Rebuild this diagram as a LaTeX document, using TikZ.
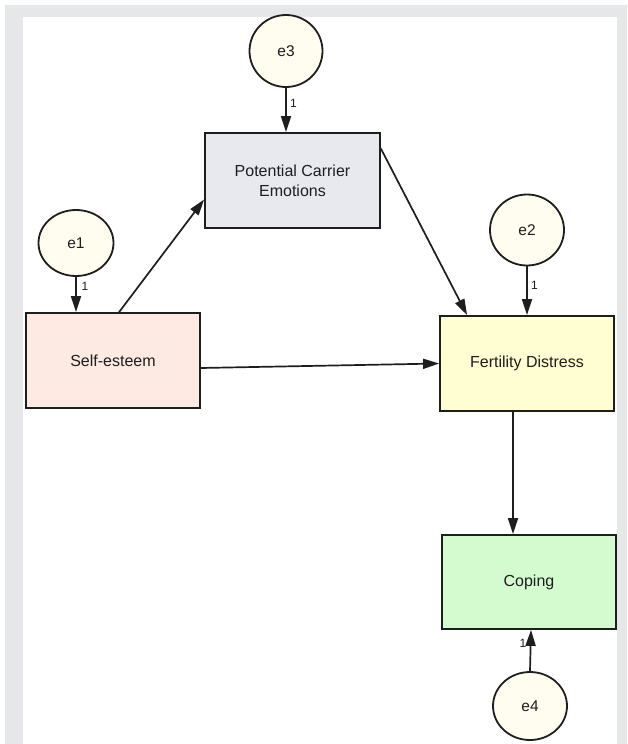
\documentclass[tikz,border=0pt]{standalone}
\usepackage{fontspec}
\setmainfont{Liberation Sans}
\usetikzlibrary{arrows.meta,shapes.geometric}
\definecolor{framegrey}{HTML}{E6E7E9}
\definecolor{inkc}{HTML}{1E1E1E}
\definecolor{pcefill}{HTML}{E8E8EF}
\definecolor{sefill}{HTML}{FCEAE3}
\definecolor{fdfill}{HTML}{FFFDD2}
\definecolor{copfill}{HTML}{D4FAD0}
\definecolor{errfill}{HTML}{FEFDF0}
\tikzset{
  varbox/.style={draw=inkc, line width=1.8pt, rectangle, inner sep=0pt, align=center,
     font=\fontsize{16}{20}\selectfont, text=inkc},
  errc/.style={draw=inkc, line width=1.8pt, ellipse, inner sep=0pt, fill=errfill,
     font=\fontsize{15.5}{18}\selectfont, text=inkc},
  path/.style={draw=inkc, line width=1.7pt, -{Triangle[length=16pt,width=10pt]}},
  onelab/.style={font=\fontsize{12}{13}\selectfont, text=inkc, inner sep=0pt}
}
\begin{document}
\begin{tikzpicture}[x=1pt,y=-1pt]
\useasboundingbox (0,0) rectangle (627,744);
\fill[white] (0,0) rectangle (627,744);
\fill[framegrey] (5,5) rectangle (627,744);
\fill[white] (23,17) rectangle (617,744);

\node[varbox, fill=pcefill, minimum width=175pt, minimum height=95pt] (pce) at (292.5,180.5) {Potential Carrier\\Emotions};
\node[varbox, fill=sefill, minimum width=174pt, minimum height=95pt] (se) at (113,360.5) {Self-esteem};
\node[varbox, fill=fdfill, minimum width=174pt, minimum height=95pt] (fd) at (527,363.5) {Fertility Distress};
\node[varbox, fill=copfill, minimum width=174pt, minimum height=94pt] (cop) at (529,582) {Coping};

\node[errc, minimum width=73pt, minimum height=72pt] (e3) at (286,51) {e3};
\node[errc, minimum width=75pt, minimum height=66pt] (e1) at (76,243) {e1};
\node[errc, minimum width=74pt, minimum height=71pt] (e2) at (527,230) {e2};
\node[errc, minimum width=74pt, minimum height=68pt] (e4) at (530,706) {e4};

% error paths
\draw[path] (e3.south) -- (pce.north -| e3.south);
\draw[path] (e1.south) -- (se.north -| e1.south);
\draw[path] (e2.south) -- (fd.north -| e2.south);
\coordinate (c4) at ([xshift=2pt]cop.south);
\draw[path] (e4.north) -- (c4);

\node[onelab] (l3) at (293.5,103) {1};
\node[onelab] (l1) at (85,286) {1};
\node[onelab] (l2) at (534.5,285) {1};
\node[onelab] (l4) at (523,643) {1};

% structural paths
\draw[path] ([xshift=94pt]se.north west) -- ([yshift=-19pt]pce.west);
\draw[path] ([yshift=-16.5pt]pce.north east) -- ([xshift=28pt]fd.north west);
\draw[path] ([yshift=-7.5pt]se.east) -- (fd.west);
\draw[path] ([xshift=-14pt]fd.south) -- ([xshift=-16pt]cop.north);
\end{tikzpicture}
\end{document}
